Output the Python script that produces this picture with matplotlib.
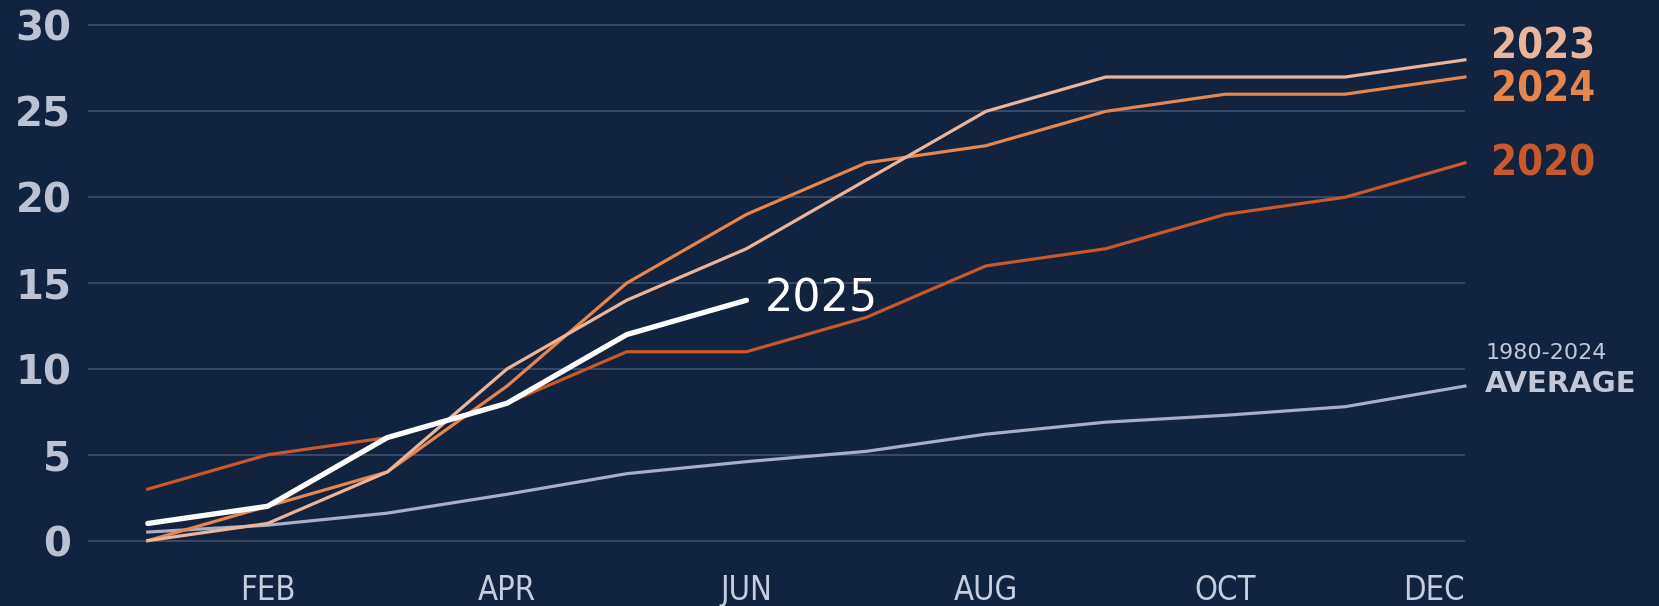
# Cumulative Count by Month - Recent Years vs 1980-2024 Average

# Importing External Libraries
import numpy as np
import matplotlib
matplotlib.use('Agg')
import matplotlib.pyplot as plt

# Data
months = ['JAN', 'FEB', 'MAR', 'APR', 'MAY', 'JUN', 'JUL', 'AUG', 'SEP', 'OCT', 'NOV', 'DEC']
shown_months = ['FEB', 'APR', 'JUN', 'AUG', 'OCT', 'DEC']

y2020 = [3, 5, 6, 8, 11, 11, 13, 16, 17, 19, 20, 22]
y2023 = [0, 1, 4, 10, 14, 17, 21, 25, 27, 27, 27, 28]
y2024 = [0, 2, 4, 9, 15, 19, 22, 23, 25, 26, 26, 27]
y2025 = [1, 2, 6, 8, 12, 14]
average = [0.5, 0.9, 1.6, 2.7, 3.9, 4.6, 5.2, 6.2, 6.9, 7.3, 7.8, 9.0]

y_ticks = [0, 5, 10, 15, 20, 25, 30]

# Colours
bg = '#12233f'
grid_col = '#3a4b6a'
c2020 = '#c9582b'
c2023 = '#ebb59b'
c2024 = '#e5864f'
c_avg = '#a9adc6'
tick_col = '#bcc2d2'

x = np.arange(len(months))

# Creating the Figure
fig = plt.figure(figsize=(16.59, 6.06), dpi=100, facecolor=bg)
ax = fig.add_axes([0.053, 0.0937, 0.830, 0.8784], facecolor=bg)

# Plotting the Lines
ax.plot(x, average, color=c_avg, linewidth=2.3, zorder=2, clip_on=False)
ax.plot(x, y2020, color=c2020, linewidth=2.3, zorder=3, clip_on=False)
ax.plot(x, y2024, color=c2024, linewidth=2.3, zorder=4, clip_on=False)
ax.plot(x, y2023, color=c2023, linewidth=2.3, zorder=5, clip_on=False)
ax.plot(x[:len(y2025)], y2025, color='white', linewidth=3.8, zorder=6,
        solid_capstyle='round', clip_on=False)

# Axis Limits and Grid
ax.set_xlim(-0.5, 11)
ax.set_ylim(-0.5, 30.5)
ax.set_yticks(y_ticks)
ax.set_yticklabels([str(t) for t in y_ticks], fontsize=29, fontweight='bold',
                   color=tick_col, family='DejaVu Sans')
ax.set_xticks([months.index(m) for m in shown_months])
ax.set_xticklabels(shown_months, fontsize=23.5, color='#c6cddc',
                   family='DejaVu Sans', fontstretch='condensed')
ax.xaxis.get_ticklabels()[-1].set_horizontalalignment('right')
ax.tick_params(axis='y', length=0, pad=12)
ax.tick_params(axis='x', length=0, pad=18)
ax.grid(axis='y', color=grid_col, linewidth=1.4, zorder=0)
for s in ax.spines.values():
    s.set_visible(False)

# Line Labels
lab_x = 11.22
year_font = dict(fontsize=30, fontweight='bold', fontstretch='condensed', va='center')
ax.text(lab_x, 28.75, '2023', color=c2023, **year_font)
ax.text(lab_x, 26.25, '2024', color=c2024, **year_font)
ax.text(lab_x, 21.95, '2020', color=c2020, **year_font)
ax.text(lab_x - 0.05, 10.95, '1980-2024', color='#c3c7d6', fontsize=16, va='center')
ax.text(lab_x - 0.05, 9.15, 'AVERAGE', color='#c3c7d6', fontsize=21, fontweight='bold', va='center')
ax.text(5.15, 14.1, '2025', color='white', fontsize=32, va='center')

# Saving the Graph
fig.savefig('out.png', dpi=100, facecolor=bg)
